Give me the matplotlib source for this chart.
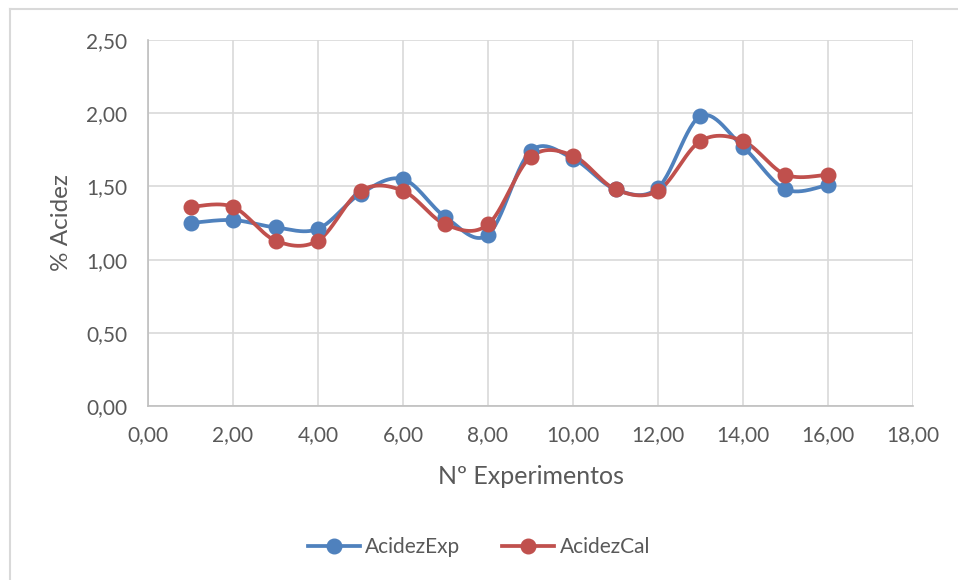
import numpy as np
import matplotlib.pyplot as plt
from matplotlib.lines import Line2D

plt.rcParams['font.family'] = ['Lato', 'DejaVu Sans']

experimentos = [1, 2, 3, 4, 5, 6, 7, 8, 9, 10, 11, 12, 13, 14, 15, 16]
acidez_exp = [1.25, 1.27, 1.22, 1.21, 1.45, 1.55, 1.29, 1.17,
              1.74, 1.69, 1.48, 1.49, 1.98, 1.77, 1.48, 1.51]
acidez_cal = [1.36, 1.36, 1.13, 1.13, 1.47, 1.47, 1.24, 1.24,
              1.70, 1.71, 1.48, 1.47, 1.81, 1.81, 1.58, 1.58]


def smooth(x, y, n=30):
    # Bezier curve through the points, control points as in Excel's smoothed line
    x = np.asarray(x, float)
    y = np.asarray(y, float)
    px = np.concatenate([[x[0]], x, [x[-1]]])
    py = np.concatenate([[y[0]], y, [y[-1]]])
    t = np.linspace(0, 1, n)[:, None]
    xs, ys = [], []
    for i in range(len(x) - 1):
        p0 = np.array([x[i], y[i]])
        p3 = np.array([x[i + 1], y[i + 1]])
        p1 = p0 + (np.array([px[i + 2], py[i + 2]]) - np.array([px[i], py[i]])) / 6
        p2 = p3 - (np.array([px[i + 3], py[i + 3]]) - np.array([px[i + 1], py[i + 1]])) / 6
        seg = ((1 - t) ** 3) * p0 + 3 * ((1 - t) ** 2) * t * p1 + 3 * (1 - t) * t ** 2 * p2 + t ** 3 * p3
        xs.append(seg[:, 0])
        ys.append(seg[:, 1])
    return np.concatenate(xs), np.concatenate(ys)


fig = plt.figure(figsize=(9.58, 5.8), dpi=100)
ax = fig.add_axes([148 / 958, 1 - 406 / 580, (913 - 148) / 958, (406 - 40) / 580])

blue = '#4f81bd'
red = '#c0504d'
grey_txt = '#595959'
for ys, c, name in [(acidez_exp, blue, 'AcidezExp'), (acidez_cal, red, 'AcidezCal')]:
    sx, sy = smooth(experimentos, ys)
    ax.plot(sx, sy, color=c, lw=2.7, solid_capstyle='round', zorder=3)
    ax.plot(experimentos, ys, 'o', color=c, ms=10.5, zorder=4)
    ax.plot([], [], '-o', color=c, lw=2.7, ms=10.5, label=name)

ax.set_xlim(0, 18)
ax.set_ylim(0, 2.5)
xt = np.arange(0, 19, 2)
yt = np.arange(0, 2.51, 0.5)
ax.set_xticks(xt)
ax.set_yticks(yt)
ax.set_xticklabels([f'{v:.2f}'.replace('.', ',') for v in xt])
ax.set_yticklabels([f'{v:.2f}'.replace('.', ',') for v in yt])
ax.grid(True, color='#d9d9d9', lw=1.2)
ax.set_axisbelow(True)
for s in ['top', 'right']:
    ax.spines[s].set_visible(False)
for s in ['left', 'bottom']:
    ax.spines[s].set_color('#bfbfbf')
    ax.spines[s].set_linewidth(1.2)
ax.tick_params(length=0, labelsize=15, colors=grey_txt)
ax.tick_params(axis='x', pad=14)
ax.tick_params(axis='y', pad=15)

ax.set_xlabel('Nº Experimentos', fontsize=18, color=grey_txt, labelpad=14)
ax.set_ylabel('% Acidez', fontsize=17.5, color=grey_txt, labelpad=10)

fig.legend(loc='center', bbox_to_anchor=(0.5, 1 - 547 / 580), ncol=2, frameon=False,
           fontsize=15, labelcolor=grey_txt, handlelength=2.5, columnspacing=2.0,
           handletextpad=0.25)

# chart frame: only the left and top edges fall inside the image
fig.add_artist(Line2D([10 / 958, 10 / 958], [0, 1 - 9 / 580], transform=fig.transFigure,
                      color='#d9d9d9', lw=1.5))
fig.add_artist(Line2D([10 / 958, 1], [1 - 9 / 580, 1 - 9 / 580], transform=fig.transFigure,
                      color='#d9d9d9', lw=1.5))

fig.savefig('out.png', dpi=100)
